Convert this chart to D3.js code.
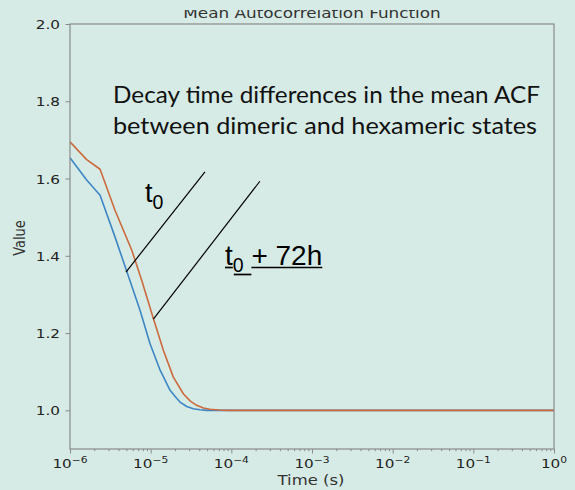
<!DOCTYPE html>
<html>
<head>
<meta charset="utf-8">
<script src="https://cdn.jsdelivr.net/npm/d3@7"></script>
<style>
  body { margin: 0; background: #d6ebe5; }
  svg { display: block; }
</style>
</head>
<body>
<div id="chart"></div>
<script>
// lag times (s) and mean ACF values
var times_blue  = [1e-6, 1.61e-6, 2.36e-6, 3.61e-6, 5.05e-6, 7.38e-6, 9.8e-6, 1.31e-5, 1.74e-5, 2.05e-5, 2.31e-5, 2.8e-5, 3.37e-5, 4.1e-5, 4.95e-5, 1e-4, 1e-3, 1e-2, 1e-1, 1];
var acf_blue    = [1.654, 1.596, 1.557, 1.449, 1.360, 1.259, 1.173, 1.104, 1.052, 1.034, 1.0215, 1.010, 1.004, 1.0015, 1.0, 1.0, 1.0, 1.0, 1.0, 1.0];
var times_orange = [1e-6, 1.61e-6, 2.36e-6, 3.61e-6, 5.82e-6, 7.74e-6, 1.08e-5, 1.44e-5, 1.91e-5, 2.54e-5, 3.1e-5, 3.72e-5, 4.5e-5, 5.43e-5, 7e-5, 8.77e-5, 1e-3, 1e-2, 1e-1, 1];
var acf_orange   = [1.695, 1.649, 1.624, 1.518, 1.415, 1.337, 1.238, 1.155, 1.086, 1.043, 1.024, 1.013, 1.006, 1.003, 1.001, 1.0, 1.0, 1.0, 1.0, 1.0];

var y_ticks = [1.0, 1.2, 1.4, 1.6, 1.8, 2.0];
var x_major = [1e-6, 1e-5, 1e-4, 1e-3, 1e-2, 1e-1, 1];
var x_exps  = ["\u22126", "\u22125", "\u22124", "\u22123", "\u22122", "\u22121", "0"];

// pointer lines (data coords: [t, value] start -> end)
var pointer_t0  = [[4.94e-6, 1.358], [4.71e-5, 1.617]];
var pointer_t72 = [[1.08e-5, 1.236], [2.26e-4, 1.593]];

var width = 575, height = 490;
var margin = {top: 24, right: 21, bottom: 41, left: 70};
var sx = 1.22; // the screenshot is stretched sideways

var svg = d3.select("#chart").append("svg")
    .attr("width", width)
    .attr("height", height);

svg.append("rect").attr("width", width).attr("height", height).attr("fill", "#d6ebe5");

var x = d3.scaleLog()
    .domain([1e-6, 1])
    .range([margin.left, width - margin.right]);
var y = d3.scaleLinear()
    .domain([0.9, 2.0])
    .range([height - margin.bottom, margin.top]);

var tick_color = "#222";
var spine = "#8a8a8a";

// x axis: minor + major ticks
var minor = x.ticks().filter(function(t){ return x_major.indexOf(t) < 0; });
var gx = svg.append("g").attr("transform", "translate(0," + (height - margin.bottom) + ")");
gx.call(d3.axisBottom(x).tickValues(minor).tickSize(2.2).tickFormat(""));
gx.append("g").call(d3.axisBottom(x).tickValues(x_major).tickSize(4.5).tickFormat(""));
gx.selectAll(".domain").remove();
gx.selectAll("line").attr("stroke", spine).attr("stroke-width", 1);

var xl = gx.selectAll(".xlab")
    .data(x_major)
    .enter().append("text")
    .attr("class", "xlab")
    .attr("transform", function(d){ return "translate(" + x(d) + ",19) scale(" + sx + ",1)"; })
    .attr("text-anchor", "middle")
    .attr("font-family", "DejaVu Sans")
    .attr("font-size", 12.5)
    .attr("fill", tick_color);
xl.append("tspan").text("10");
xl.append("tspan")
    .attr("dy", -5)
    .attr("font-size", 8.8)
    .text(function(d, i){ return x_exps[i]; });

// y axis
var gy = svg.append("g").attr("transform", "translate(" + margin.left + ",0)");
gy.call(d3.axisLeft(y).tickValues(y_ticks).tickSize(4.5).tickFormat(d3.format(".1f")));
gy.selectAll(".domain").remove();
gy.selectAll("line").attr("stroke", spine).attr("stroke-width", 1);
gy.selectAll("text")
    .attr("x", null)
    .attr("dy", null)
    .attr("transform", "translate(-10,4.6) scale(" + sx + ",1)")
    .attr("text-anchor", "end")
    .attr("font-family", "DejaVu Sans")
    .attr("font-size", 12.5)
    .attr("fill", tick_color);

// curves
var line = d3.line()
    .x(function(d){ return x(d[0]); })
    .y(function(d){ return y(d[1]); });

svg.append("path")
    .datum(d3.zip(times_blue, acf_blue))
    .attr("fill", "none")
    .attr("stroke", "#3d86c6")
    .attr("stroke-width", 1.6)
    .attr("stroke-linejoin", "round")
    .attr("d", line);
svg.append("path")
    .datum(d3.zip(times_orange, acf_orange))
    .attr("fill", "none")
    .attr("stroke", "#cc6a3d")
    .attr("stroke-width", 1.6)
    .attr("stroke-linejoin", "round")
    .attr("d", line);

// spines
svg.append("rect")
    .attr("x", margin.left).attr("y", margin.top)
    .attr("width", width - margin.left - margin.right)
    .attr("height", height - margin.top - margin.bottom)
    .attr("fill", "none")
    .attr("stroke", spine)
    .attr("stroke-width", 1.2);

// title, clipped at the top like the screenshot
svg.append("clipPath").attr("id", "titleclip")
    .append("rect").attr("x", 0).attr("y", 10).attr("width", width).attr("height", 14);
svg.append("g")
    .attr("clip-path", "url(#titleclip)")
  .append("text")
    .attr("transform", "translate(" + ((margin.left + width - margin.right) / 2) + ",18.3) scale(" + sx + ",1)")
    .attr("text-anchor", "middle")
    .attr("font-family", "DejaVu Sans")
    .attr("font-size", 13.8)
    .attr("fill", "#333")
    .text("Mean Autocorrelation Function");

// axis labels
svg.append("text")
    .attr("transform", "translate(311,485) scale(" + sx + ",1)")
    .attr("text-anchor", "middle")
    .attr("font-family", "DejaVu Sans")
    .attr("font-size", 13.5)
    .attr("fill", "#333")
    .text("Time (s)");
svg.append("text")
    .attr("transform", "translate(25,238) scale(" + sx + ",1) rotate(-90)")
    .attr("text-anchor", "middle")
    .attr("font-family", "DejaVu Sans")
    .attr("font-size", 13)
    .attr("fill", "#333")
    .text("Value");

// annotation text
svg.append("text")
    .attr("x", 113).attr("y", 103)
    .attr("font-family", "Lato")
    .attr("font-size", 22.5)
    .attr("fill", "#111")
    .attr("textLength", 427)
    .attr("lengthAdjust", "spacingAndGlyphs")
    .text("Decay time differences in the mean ACF");
svg.append("text")
    .attr("x", 113).attr("y", 134)
    .attr("font-family", "Lato")
    .attr("font-size", 22.5)
    .attr("fill", "#111")
    .attr("textLength", 424)
    .attr("lengthAdjust", "spacingAndGlyphs")
    .text("between dimeric and hexameric states");

// pointer lines
[pointer_t0, pointer_t72].forEach(function(p){
  svg.append("line")
      .attr("x1", x(p[0][0])).attr("y1", y(p[0][1]))
      .attr("x2", x(p[1][0])).attr("y2", y(p[1][1]))
      .attr("stroke", "#000")
      .attr("stroke-width", 1.2);
});

// t0 label
var t0 = svg.append("text")
    .attr("x", 145).attr("y", 202)
    .attr("font-family", "Liberation Sans")
    .attr("font-size", 27)
    .attr("fill", "#000");
t0.append("tspan").text("t");
t0.append("tspan").attr("dy", 7).attr("font-size", 19.5).text("0");

// t0 + 72h label, underlined
var g72 = svg.append("g");
var a = g72.append("text")
    .attr("x", 225).attr("y", 265)
    .attr("font-family", "Liberation Sans")
    .attr("font-size", 28)
    .attr("fill", "#000");
a.append("tspan").text("t");
a.append("tspan").attr("dy", 7).attr("font-size", 19.5).text("0");
a.append("tspan").attr("dy", -7).text("\u00a0+ 72h");

var n = a.node();
var xa0 = n.getStartPositionOfChar(0).x, xa1 = n.getEndPositionOfChar(0).x;
var xc1 = n.getEndPositionOfChar(n.getNumberOfChars() - 1).x;
var xc0 = n.getStartPositionOfChar(3).x;
[[xa0, xa1, 267.5], [xa1 + 1, xc0, 274.5], [xc0, xc1, 267.5]].forEach(function(s){
  g72.append("line")
      .attr("x1", s[0]).attr("x2", s[1])
      .attr("y1", s[2]).attr("y2", s[2])
      .attr("stroke", "#000")
      .attr("stroke-width", 1.7);
});
</script>
</body>
</html>
